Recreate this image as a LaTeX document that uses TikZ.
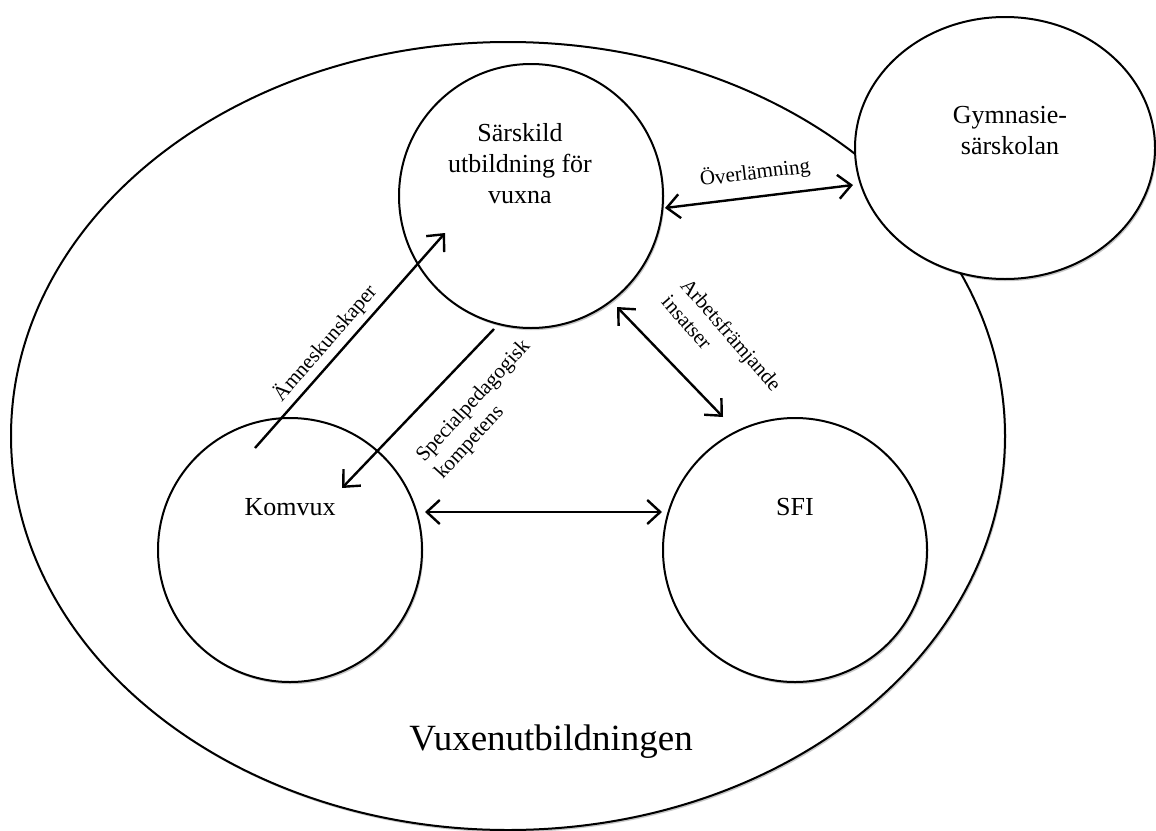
\documentclass[tikz,border=0pt]{standalone}
\usepackage{fontspec}
\setmainfont{Liberation Serif}
\usetikzlibrary{shapes.geometric,arrows.meta,calc,shadows}
\begin{document}
\begin{tikzpicture}[x=0.5pt,y=-0.5pt,
  shp/.style={draw, line width=1pt, fill=white, inner sep=0pt, outer sep=0pt,
    drop shadow={shadow xshift=0.7pt, shadow yshift=-1.1pt, opacity=0.22, fill=black}},
  ring/.style={shp, circle, minimum size=132pt},
  mainlbl/.style={font=\fontsize{13}{15.5}\selectfont, align=center, inner sep=0pt},
  edgelbl/.style={font=\fontsize{10.5}{12.6}\selectfont, align=left, inner sep=0pt},
  tip/.tip={Straight Barb[length=6.5pt,width=12pt,line width=1.2pt]},
  oneway/.style={line width=1.2pt, -tip},
  twoway/.style={line width=1.2pt, tip-tip}]
\useasboundingbox (0,0) rectangle (1156,830);

% outer region
\node[shp, ellipse, minimum width=497pt, minimum height=394pt] (vux) at (508,436) {};
% external school
\node[shp, ellipse, minimum width=150pt, minimum height=131pt] (gym) at (1005,148) {};
% inner units
\node[ring] (sar) at (531,196) {};
\node[ring] (kom) at (290,550) {};
\node[ring] (sfi) at (795,550) {};

% texts
\node[mainlbl] (tsar) at (520,164) {Särskild\\utbildning för\\vuxna};
\node[mainlbl] (tgym) at (1010,131) {Gymnasie-\\särskolan};
\node[mainlbl] (tkom) at (290,507) {Komvux};
\node[mainlbl] (tsfi) at (795,507) {SFI};
\node[font=\fontsize{18.5}{22}\selectfont, inner sep=0pt] (tvux) at (551,742) {Vuxenutbildningen};

% connector end points
\coordinate (amS) at ($(kom)+(-35,-102)$);
\coordinate (amE) at ($(sar)+(-86,37)$);
\coordinate (spS) at ($(sar)+(-37,133)$);
\coordinate (spE) at ($(kom)+(52,-62)$);
\coordinate (arS) at ($(sar)+(86,111)$);
\coordinate (arE) at ($(sfi)+(-72,-133)$);
\coordinate (ovS) at ($(sar)+(134,12)$);
\coordinate (ovE) at ($(gym)+(-152,37)$);
\coordinate (hoS) at ($(kom)+(135,-38)$);
\coordinate (hoE) at ($(sfi)+(-133,-38)$);

% connectors
\draw[oneway] (amS) -- (amE);
\draw[oneway] (spS) -- (spE);
\draw[twoway] (arS) -- (arE);
\draw[twoway] (ovS) -- (ovE);
\draw[twoway] (hoS) -- (hoE);

% connector labels
\node[edgelbl, rotate=49] (lam) at (325,343) {Ämneskunskaper};
\node[edgelbl, rotate=47.5] (lsp) at (483,410) {Specialpedagogisk\\kompetens};
\node[edgelbl, rotate=-49] (lar) at (722,343) {Arbetsfrämjande\\insatser};
\node[edgelbl, rotate=7] (lov) at (755,173) {Överlämning};
\end{tikzpicture}
\end{document}
